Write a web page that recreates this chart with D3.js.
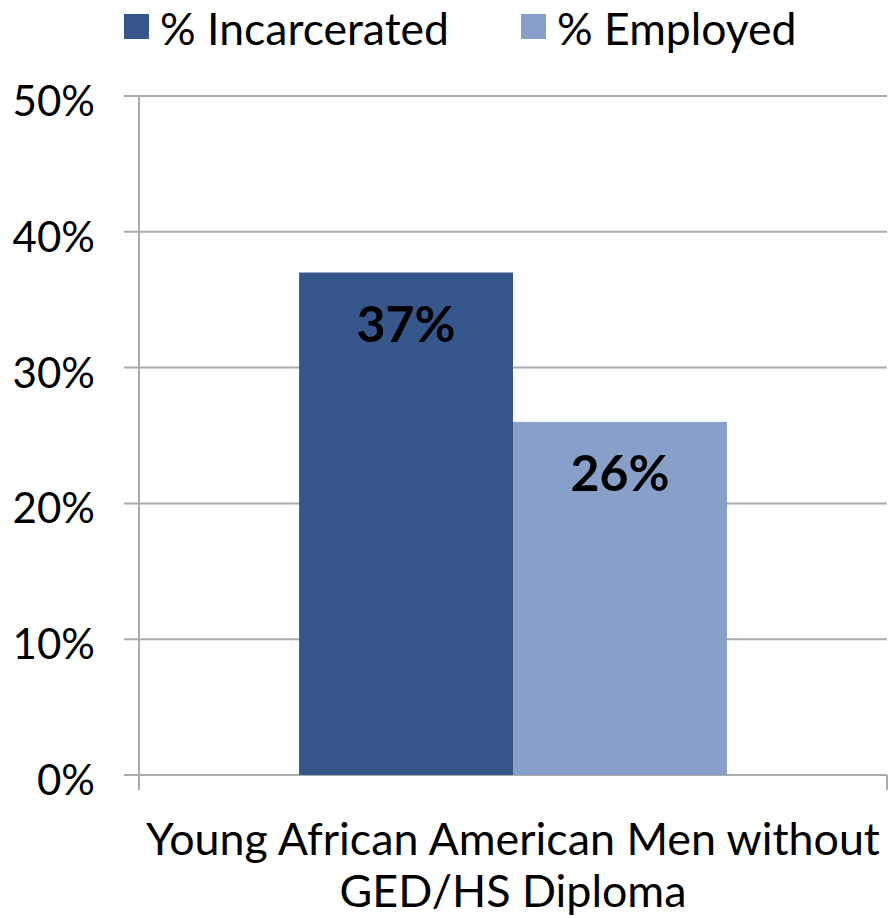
<!DOCTYPE html>
<html><head><meta charset="utf-8">
<script src="https://cdn.jsdelivr.net/npm/d3@7"></script>
<style>body{margin:0;background:#fff}svg{display:block}text{font-family:Lato,"Open Sans",sans-serif;fill:#000}</style>
</head><body>
<script>
const categories = ["Young African American Men without GED/HS Diploma"];
const categoryLines = [["Young African American Men without", "GED/HS Diploma"]];
const seriesNames = ["% Incarcerated", "% Employed"];
const seriesValues = [[0.37], [0.26]];
const seriesColors = ["#35568A", "#879FC9"];
const yTicks = [0, 0.1, 0.2, 0.3, 0.4, 0.5];

const W = 888, H = 918;
const svg = d3.select("body").append("svg").attr("width", W).attr("height", H);
const x0 = d3.scaleBand().domain(categories).range([139, 887]).paddingInner(0).paddingOuter(0);
const y = d3.scaleLinear().domain([0, 0.5]).range([775, 96]);
const inner = x0.bandwidth() * 0.572;
const x1 = d3.scaleBand().domain(seriesNames).range([0, inner]).padding(0);
const grid = "#ababab";

// gridlines
svg.append("g").selectAll("line").data(yTicks).join("line")
  .attr("x1", 124).attr("x2", 887).attr("y1", d => y(d)).attr("y2", d => y(d))
  .attr("stroke", grid).attr("stroke-width", 2);
// y axis
svg.append("line").attr("x1", 139).attr("x2", 139).attr("y1", y(0.5)).attr("y2", 790)
  .attr("stroke", grid).attr("stroke-width", 2);
svg.append("line").attr("x1", 887).attr("x2", 887).attr("y1", 775).attr("y2", 790)
  .attr("stroke", grid).attr("stroke-width", 2);
svg.append("g").selectAll("text").data(yTicks).join("text")
  .attr("x", 95).attr("y", d => y(d) + 20).attr("text-anchor", "end")
  .attr("font-size", 42).text(d => d3.format(".0%")(d));

// bars
const g = svg.append("g");
categories.forEach((c, ci) => {
  const off = x0(c) + (x0.bandwidth() - inner) / 2;
  seriesNames.forEach((s, si) => {
    const v = seriesValues[si][ci];
    g.append("rect").attr("x", off + x1(s)).attr("width", x1.bandwidth())
      .attr("y", y(v)).attr("height", y(0) - y(v)).attr("fill", seriesColors[si]);
    g.append("text").attr("x", off + x1(s) + x1.bandwidth() / 2).attr("y", y(v) + 69)
      .attr("text-anchor", "middle").attr("font-size", 50).attr("font-weight", "bold")
      .text(d3.format(".0%")(v));
  });
  const t = svg.append("text").attr("x", x0(c) + x0.bandwidth() / 2).attr("text-anchor", "middle").attr("font-size", 44.8);
  categoryLines[ci].forEach((ln, li) => t.append("tspan").attr("x", x0(c) + x0.bandwidth() / 2).attr("y", 855 + li * 52).text(ln));
});

// legend
const legX = [124, 521];
seriesNames.forEach((s, i) => {
  svg.append("rect").attr("x", legX[i]).attr("y", 14).attr("width", 25).attr("height", 25).attr("fill", seriesColors[i]);
  svg.append("text").attr("x", legX[i] + 36).attr("y", 45).attr("font-size", 44.5).text(s);
});
</script>
</body></html>
